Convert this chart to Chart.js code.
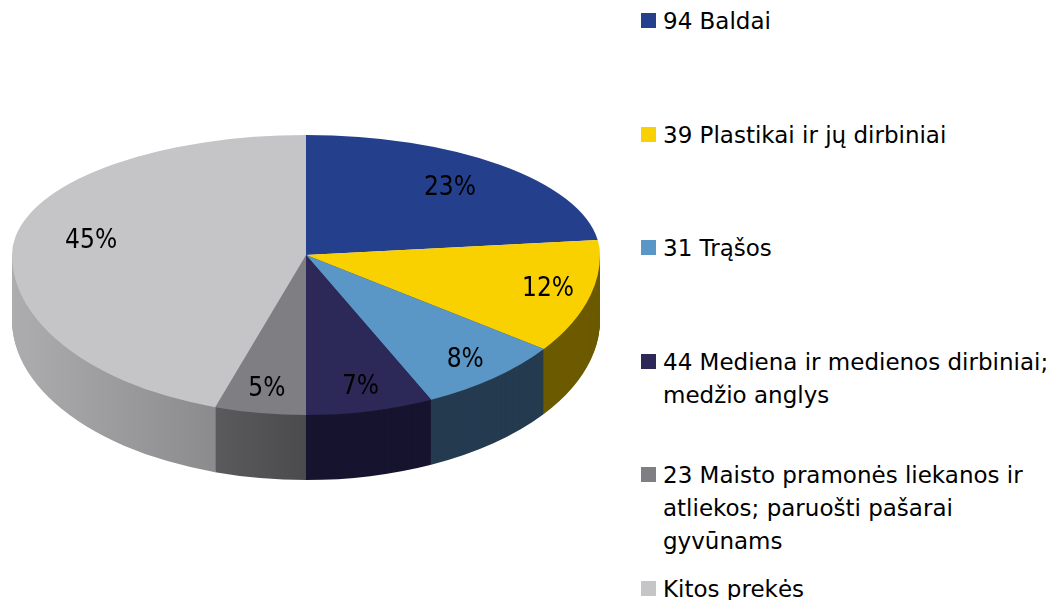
<!DOCTYPE html>
<html>
<head>
<meta charset="utf-8">
<script src="https://cdn.jsdelivr.net/npm/chart.js@4.4.0/dist/chart.umd.min.js"></script>
<style>
  body { margin: 0; background: #fff; width: 1055px; height: 600px; position: relative; overflow: hidden;
         font-family: "DejaVu Sans", Verdana, sans-serif; }
  #wrap { position: absolute; left: 0; top: 0; width: 612px; height: 600px; }
  .item { position: absolute; left: 641px; }
  .box { position: absolute; left: 0; top: 0; width: 15px; height: 15px; }
  .txt { position: absolute; left: 22px; top: -8px; white-space: nowrap; font-size: 23px; line-height: 33px; color: #000; }
</style>
</head>
<body>
<div id="wrap"><canvas id="pie"></canvas></div>
<div id="legend"></div>
<script>
// legend lines per category
var labels = [
  ['94 Baldai'],
  ['39 Plastikai ir jų dirbiniai'],
  ['31 Trąšos'],
  ['44 Mediena ir medienos dirbiniai;', 'medžio anglys'],
  ['23 Maisto pramonės liekanos ir', 'atliekos; paruošti pašarai', 'gyvūnams'],
  ['Kitos prekės']
];
var shares = [23, 12, 8, 7, 5, 45];
var topColors = ['#243f8b', '#f9d100', '#5a96c6', '#2c2858', '#7f7f83', '#c5c5c8'];
var sideColors = ['#172a5e', '#6c5a00', '#253b50', '#17142f', '#525254', '#9c9c9e'];

// fake perspective: back half squashed more than the front half
var apexY = 255;
var kBack = 120 / 294;
var kFront = 160 / 294;
var depth = 65;

// html legend
var leg = document.getElementById('legend');
labels.forEach(function(lines, i) {
  var item = document.createElement('div');
  item.className = 'item';
  item.style.top = (13 + 113.6 * i) + 'px';
  var box = document.createElement('div');
  box.className = 'box';
  box.style.background = topColors[i];
  var txt = document.createElement('div');
  txt.className = 'txt';
  txt.innerHTML = lines.join('<br>');
  item.appendChild(box);
  item.appendChild(txt);
  leg.appendChild(item);
});

function sideFill(ctx, i) {
  if (i === 5) {
    var g = ctx.createLinearGradient(12, 0, 210, 0);
    g.addColorStop(0, '#adadaf');
    g.addColorStop(1, '#8c8c8e');
    return g;
  }
  if (i === 4) {
    var g2 = ctx.createLinearGradient(200, 0, 306, 0);
    g2.addColorStop(0, '#5d5d5f');
    g2.addColorStop(1, '#4b4b4d');
    return g2;
  }
  return sideColors[i];
}

function squash(ctx, cx, cy, y, k) {
  ctx.translate(cx, y);
  ctx.scale(1, k);
  ctx.translate(-cx, -cy);
}

function clipRows(ctx, w, y0, y1) {
  ctx.beginPath();
  ctx.rect(0, y0, w, y1 - y0);
  ctx.clip();
}

var tiltPlugin = {
  id: 'tilt3d',
  beforeDatasetsDraw: function(chart) {
    var ctx = chart.ctx;
    var arcs = chart.getDatasetMeta(0).data;
    var cx = arcs[0].x, cy = arcs[0].y;
    var W = chart.width, H = chart.height;
    var fills = arcs.map(function(a, i) { return sideFill(ctx, i); });

    // side walls, only the front part shows
    ctx.save();
    clipRows(ctx, W, apexY, H);
    for (var d = depth; d >= 1; d--) {
      ctx.save();
      squash(ctx, cx, cy, apexY + d, kFront);
      arcs.forEach(function(arc, i) {
        var o = arc.options;
        arc.options = Object.assign({}, o, { backgroundColor: fills[i], borderColor: fills[i] });
        arc.draw(ctx);
        arc.options = o;
      });
      ctx.restore();
    }
    ctx.restore();

    // back half of the top face
    ctx.save();
    clipRows(ctx, W, 0, apexY);
    squash(ctx, cx, cy, apexY, kBack);
    arcs.forEach(function(arc) { arc.draw(ctx); });
    ctx.restore();

    // front half: the library draws it inside this state
    ctx.save();
    clipRows(ctx, W, apexY, H);
    squash(ctx, cx, cy, apexY, kFront);
  },
  afterDatasetsDraw: function(chart) {
    var ctx = chart.ctx;
    ctx.restore();
    var arcs = chart.getDatasetMeta(0).data;
    var total = shares.reduce(function(a, b) { return a + b; }, 0);
    ctx.save();
    ctx.fillStyle = '#000';
    ctx.font = '26px "DejaVu Sans Condensed", "DejaVu Sans", sans-serif';
    ctx.textAlign = 'center';
    ctx.textBaseline = 'middle';
    arcs.forEach(function(arc, i) {
      var mid = (arc.startAngle + arc.endAngle) / 2;
      var s = Math.sin(mid);
      // labels on the near side sit further out, like the original
      var r = arc.outerRadius * (s < 0 ? 0.74 : 0.85);
      var x = arc.x + Math.cos(mid) * r;
      var y = apexY + s * r * (s < 0 ? kBack : kFront);
      ctx.fillText(Math.round(shares[i] / total * 100) + '%', x, y);
    });
    ctx.restore();
  }
};

new Chart(document.getElementById('pie').getContext('2d'), {
  type: 'pie',
  data: {
    labels: labels.map(function(l) { return l.join(' '); }),
    datasets: [{
      data: shares,
      backgroundColor: topColors,
      borderWidth: 0,
      clip: false
    }]
  },
  options: {
    responsive: true,
    maintainAspectRatio: false,
    animation: false,
    events: [],
    layout: { padding: { left: 12, right: 12, top: 0, bottom: 0 } },
    plugins: {
      legend: { display: false },
      tooltip: { enabled: false }
    }
  },
  plugins: [tiltPlugin]
});
</script>
</body>
</html>
